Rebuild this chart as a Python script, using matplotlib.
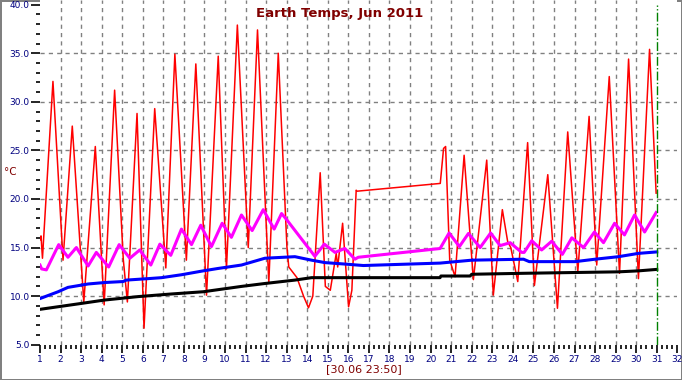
import matplotlib
matplotlib.use('Agg')
import matplotlib.pyplot as plt
import numpy as np

# day of month (fractional) and temperature in deg C
red_t = [1.00, 1.05, 1.12, 1.63, 2.12, 2.57, 3.13, 3.69, 4.12, 4.63, 5.05, 5.25,
         5.72, 6.06, 6.58, 7.12, 7.56, 8.12, 8.58, 9.10, 9.67, 10.07, 10.60, 11.13,
         11.58, 12.13, 12.59, 13.01, 13.10, 13.50, 13.82, 14.06, 14.27, 14.63, 14.88,
         15.12, 15.41, 15.48, 15.72, 16.01, 16.17, 16.38, 16.42, 20.47, 20.63, 20.73,
         20.93, 21.19, 21.63, 22.08, 22.73, 23.05, 23.49, 23.75, 23.90, 24.24, 24.72,
         25.05, 25.70, 26.17, 26.67, 27.16, 27.71, 28.08, 28.69, 29.19, 29.63, 30.11,
         30.65, 30.97]
red_v = [15.8, 16.2, 13.9, 32.1, 13.7, 27.5, 9.4, 25.4, 9.1, 31.2, 13.8, 9.4,
         28.8, 6.7, 29.3, 12.9, 34.9, 13.7, 33.9, 10.1, 34.7, 12.8, 37.9, 15.0,
         37.4, 11.4, 35.0, 15.1, 13.0, 11.9, 10.0, 8.8, 10.0, 22.7, 11.0,
         10.6, 14.4, 13.0, 17.5, 8.9, 10.6, 20.9, 20.8, 21.6, 25.2, 25.4,
         13.7, 12.0, 24.5, 11.7, 24.0, 10.1, 18.9, 15.6, 15.0, 11.5, 25.8,
         11.1, 22.5, 8.75, 26.9, 12.5, 28.5, 13.2, 32.6, 12.35, 34.4, 11.8,
         35.4, 20.6]

pink_t = [1.00, 1.08, 1.31, 1.91, 2.36, 2.77, 3.34, 3.74, 4.34, 4.85, 5.37, 5.85,
          6.39, 6.83, 7.36, 7.88, 8.37, 8.82, 9.34, 9.86, 10.31, 10.80, 11.32, 11.86,
          12.39, 12.75, 12.95, 14.37, 14.83, 15.35, 15.83, 16.32, 16.48, 20.46, 20.90,
          21.40, 21.84, 22.41, 22.92, 23.38, 23.87, 24.43, 24.55, 24.92, 25.40, 25.89,
          26.41, 26.87, 27.44, 27.97, 28.41, 28.95, 29.43, 29.92, 30.41, 30.97]
pink_v = [13.2, 12.8, 12.7, 15.3, 14.0, 15.0, 13.1, 14.5, 13.0, 15.3, 13.9, 14.75,
          13.2, 15.35, 14.2, 16.9, 15.3, 17.3, 15.1, 17.5, 16.05, 18.35, 16.75, 18.9,
          16.9, 18.5, 18.0, 14.1, 15.35, 14.5, 14.9, 13.8, 14.0, 14.9, 16.5,
          15.1, 16.45, 15.0, 16.5, 15.2, 15.5, 14.5, 14.5, 15.7, 14.75, 15.65,
          14.3, 16.0, 15.0, 16.6, 15.5, 17.5, 16.3, 18.35, 16.6, 18.6]

blue_t = [1.00, 1.88, 2.36, 3.34, 4.15, 5.04, 5.20, 6.26, 6.91, 7.88, 8.94, 9.67,
          10.80, 11.94, 13.40, 14.21, 14.86, 15.83, 16.73, 20.46, 22.00, 24.52, 24.80,
          27.03, 28.00, 29.14, 30.11, 31.00]
blue_v = [9.75, 10.45, 10.9, 11.25, 11.4, 11.5, 11.65, 11.8, 11.9, 12.2, 12.6, 12.85,
          13.2, 13.9, 14.06, 13.7, 13.45, 13.3, 13.15, 13.4, 13.7, 13.8, 13.55,
          13.55, 13.8, 14.06, 14.4, 14.55]

black_t = [1.00, 2.85, 4.15, 5.77, 7.39, 8.94, 10.80, 11.94, 13.40, 14.21, 16.73,
           20.46, 20.50, 21.92, 22.00, 24.52, 29.14, 30.11, 31.00]
black_v = [8.64, 9.2, 9.6, 9.95, 10.22, 10.45, 11.0, 11.3, 11.65, 11.9, 11.9,
           11.9, 12.07, 12.07, 12.25, 12.35, 12.5, 12.6, 12.75]

x_ticks = list(range(1, 33))
y_ticks = [5, 10, 15, 20, 25, 30, 35, 40]
x_grid = list(range(2, 31))
y_grid = [10, 15, 20, 25, 30, 35]
cursor_day = 31

fig = plt.figure(figsize=(6.82, 3.80), dpi=100)
fig.patch.set_edgecolor('#808080')
fig.patch.set_linewidth(2)
ax = fig.add_axes([40/682, 1 - 344.7/380, 637.3/682, 344.7/380])

for g in x_grid:
    ax.axvline(g, color='#808080', lw=1, ls=(0, (3, 3)), zorder=1)
for g in y_grid:
    ax.axhline(g, color='#808080', lw=1, ls=(0, (3, 3)), zorder=1)
ax.plot([cursor_day, cursor_day], [5, 40], color='#008000', lw=1, ls='-.', zorder=6)

ax.plot(red_t, red_v, color='#FF0000', lw=1.1, zorder=3)
ax.plot(black_t, black_v, color='black', lw=2.2, zorder=4)
ax.plot(blue_t, blue_v, color='#0000FF', lw=2.2, zorder=4)
ax.plot(pink_t, pink_v, color='#FF00FF', lw=2.2, zorder=5)

ax.set_xlim(1, 32)
ax.set_ylim(5, 40.48)
ax.set_xticks(x_ticks)
ax.set_xticks(np.arange(1, 32.01, 0.25), minor=True)
ax.set_yticks(y_ticks)
ax.set_yticks(np.arange(5, 40.01, 1), minor=True)
ax.set_yticklabels(['%.1f' % v for v in y_ticks])
for s in ax.spines.values():
    s.set_visible(False)
ax.tick_params(axis='both', which='major', labelsize=6.5, labelcolor='#000080',
               color='black', width=1.2)
ax.tick_params(axis='y', which='major', length=6.5, pad=1)
ax.tick_params(axis='y', which='minor', length=3, width=1.2)
ax.tick_params(axis='x', which='major', length=5.5, pad=2)
ax.tick_params(axis='x', which='minor', length=2.7, width=1.2)

fig.text(340/682, 1 - 13/380, 'Earth Temps, Jun 2011', color='#800000',
         fontsize=9.5, fontweight='bold', ha='center', va='center')
fig.text(364/682, 1 - 369/380, '[30.06 23:50]', color='#800000',
         fontsize=8, ha='center', va='center')
fig.text(10/682, 1 - 172/380, '°C', color='#800000', fontsize=7.5,
         ha='center', va='center')

fig.savefig('out.png', dpi=100)
